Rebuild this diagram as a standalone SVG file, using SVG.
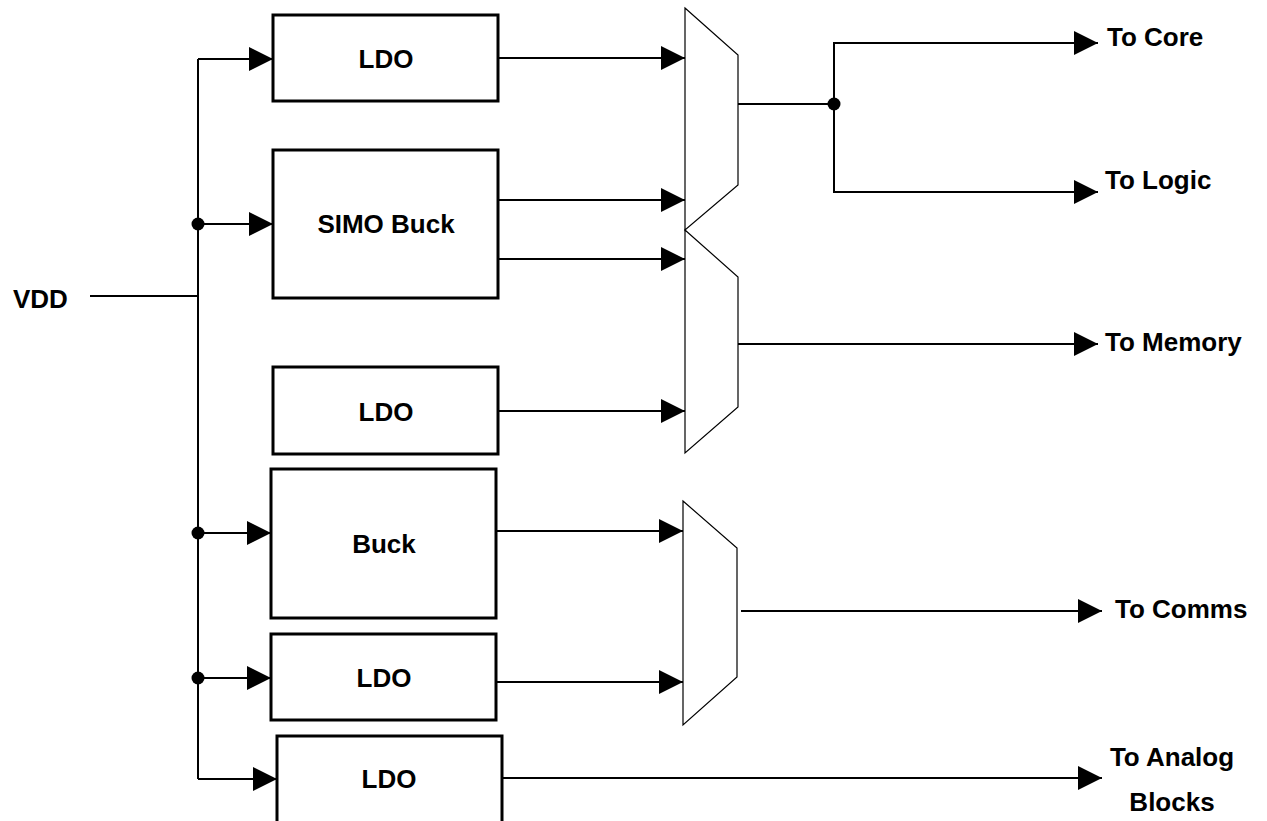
<svg xmlns="http://www.w3.org/2000/svg" width="1267" height="821" viewBox="0 0 1267 821">
<style>
.box{fill:#fff;stroke:#000;stroke-width:3}
.mux{fill:#fff;stroke:#000;stroke-width:1.2}
.w{fill:none;stroke:#000;stroke-width:2}
.t{font-family:"Liberation Sans",Arial,sans-serif;font-weight:bold;font-size:26px;fill:#000}
.c{text-anchor:middle}
</style>
<defs>
<marker id="ar" markerWidth="24" markerHeight="24" viewBox="0 0 24 24" refX="24" refY="12" orient="auto" markerUnits="userSpaceOnUse">
<path d="M0,0 L24,12 L0,24 Z" fill="#000"/>
</marker>
</defs>
<rect width="1267" height="821" fill="#fff"/>
<g id="connectors">
<path class="w" d="M90,296 H198"/>
<path class="w" d="M198,59 V779"/>
<path class="w" d="M198,59 H273" marker-end="url(#ar)"/>
<path class="w" d="M198,224 H273" marker-end="url(#ar)"/>
<path class="w" d="M198,533 H271" marker-end="url(#ar)"/>
<path class="w" d="M198,678 H271" marker-end="url(#ar)"/>
<path class="w" d="M198,779 H277" marker-end="url(#ar)"/>
<circle cx="198" cy="224" r="6.5"/>
<circle cx="198" cy="533" r="6.5"/>
<circle cx="198" cy="678" r="6.5"/>
<path class="w" d="M498,58 H685" marker-end="url(#ar)"/>
<path class="w" d="M498,200 H685" marker-end="url(#ar)"/>
<path class="w" d="M498,259 H685" marker-end="url(#ar)"/>
<path class="w" d="M498,411 H685" marker-end="url(#ar)"/>
<path class="w" d="M496,531 H683" marker-end="url(#ar)"/>
<path class="w" d="M496,682 H683" marker-end="url(#ar)"/>
<path class="w" d="M502,778 H1102" marker-end="url(#ar)"/>
<path class="w" d="M738,104 H834"/>
<path class="w" d="M834,104 V43 H1098" marker-end="url(#ar)"/>
<path class="w" d="M834,104 V192 H1098" marker-end="url(#ar)"/>
<circle cx="834" cy="104" r="6.5"/>
<path class="w" d="M738,344 H1098" marker-end="url(#ar)"/>
<path class="w" d="M741,611 H1102" marker-end="url(#ar)"/>
</g>
<g id="vdd"><text class="t" x="13" y="308" font-size="27">VDD</text></g>
<g id="ldo1"><rect class="box" x="273" y="15" width="225" height="86"/><text class="t c" x="386" y="68">LDO</text></g>
<g id="simo"><rect class="box" x="273" y="150" width="225" height="148"/><text class="t c" x="386" y="233">SIMO Buck</text></g>
<g id="ldo2"><rect class="box" x="273" y="367" width="225" height="87"/><text class="t c" x="386" y="421">LDO</text></g>
<g id="buck"><rect class="box" x="271" y="469" width="225" height="149"/><text class="t c" x="384" y="553">Buck</text></g>
<g id="ldo3"><rect class="box" x="271" y="634" width="225" height="86"/><text class="t c" x="384" y="687">LDO</text></g>
<g id="ldo4"><rect class="box" x="277" y="736" width="225" height="95"/><text class="t c" x="389" y="788">LDO</text></g>
<g id="mux1"><polygon class="mux" points="685,8 738,55 738,185 685,230"/></g>
<g id="mux2"><polygon class="mux" points="685,230 738,277 738,407 685,453"/></g>
<g id="mux3"><polygon class="mux" points="683,501 737,548 737,677 683,725"/></g>
<g id="outs">
<text class="t" x="1107" y="46">To Core</text>
<text class="t" x="1105" y="189">To Logic</text>
<text class="t" x="1105" y="351">To Memory</text>
<text class="t" x="1115" y="618">To Comms</text>
<text class="t c" x="1172" y="766">To Analog</text>
<text class="t c" x="1172" y="811">Blocks</text>
</g>
</svg>
